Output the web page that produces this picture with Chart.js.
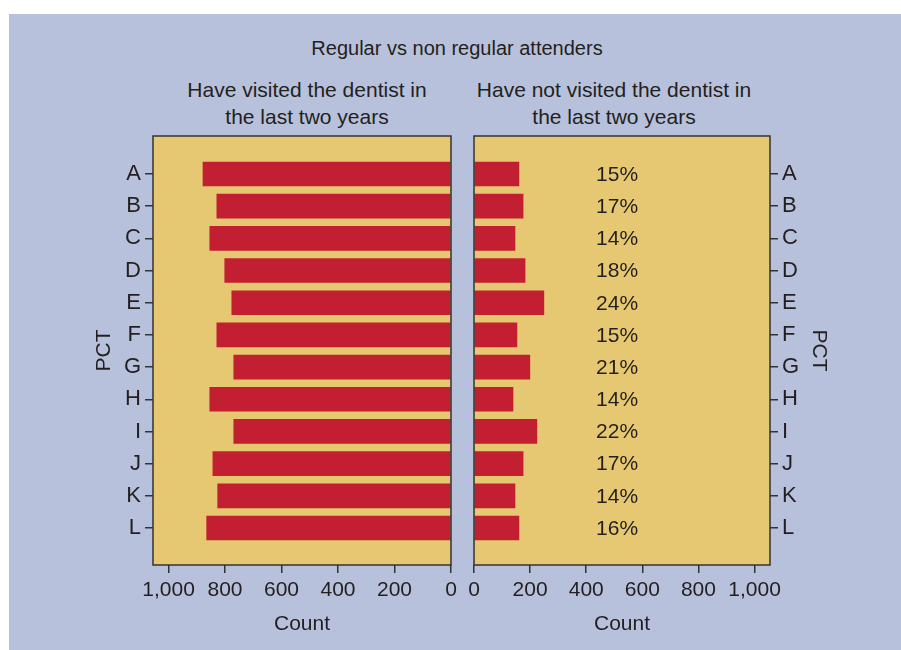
<!DOCTYPE html>
<html>
<head>
<meta charset="utf-8">
<script src="https://cdn.jsdelivr.net/npm/chart.js@4.4.0/dist/chart.umd.min.js"></script>
<style>
  body { margin: 0; background: #ffffff; }
  #wrap { position: relative; width: 901px; height: 650px; overflow: hidden; }
  #panel { position: absolute; left: 9px; top: 14px; width: 892px; height: 636px; background: #b8c1db; }
  canvas { position: absolute; left: 0; top: 0; }
  .txt { position: absolute; font-family: 'Liberation Sans', sans-serif; font-size: 21px; color: #231f20; text-align: center; line-height: 27px; white-space: nowrap; }
</style>
</head>
<body>
<div id="wrap">
  <div id="panel"></div>
  <div class="txt" style="left:257px; top:35px; width:400px; font-size:20px;">Regular vs non regular attenders</div>
  <div class="txt" style="left:157px; top:76px; width:300px;">Have visited the dentist in<br>the last two years</div>
  <div class="txt" style="left:464px; top:76px; width:300px;">Have not visited the dentist in<br>the last two years</div>
  <canvas id="leftChart" width="901" height="650"></canvas>
  <canvas id="rightChart" width="901" height="650"></canvas>
</div>
<script>
const categories = ["A", "B", "C", "D", "E", "F", "G", "H", "I", "J", "K", "L"];
const visited = [878, 829, 854, 801, 776, 829, 769, 854, 769, 843, 826, 865];
const notVisited = [160, 175, 146, 182, 249, 153, 199, 139, 224, 175, 146, 160];
const percentLabels = ["15%", "17%", "14%", "18%", "24%", "15%", "21%", "14%", "22%", "17%", "14%", "16%"];
const countTicks = [0, 200, 400, 600, 800, 1000];

const textColor = "#231f20";
const lineColor = "#333333";
const barColor = "#c21f32";
const plotColor = "#e6c872";

Chart.defaults.font.family = "'Liberation Sans', sans-serif";
Chart.defaults.font.size = 21;
Chart.defaults.color = textColor;

const framePlugin = {
    id: "frame",
    beforeDraw(chart) {
        const a = chart.chartArea;
        const ctx = chart.ctx;
        ctx.save();
        ctx.fillStyle = plotColor;
        ctx.fillRect(a.left, a.top, a.right - a.left, a.bottom - a.top);
        ctx.restore();
    },
    afterDraw(chart) {
        const a = chart.chartArea;
        const ctx = chart.ctx;
        ctx.save();
        ctx.strokeStyle = lineColor;
        ctx.lineWidth = 1.5;
        ctx.strokeRect(a.left, a.top, a.right - a.left, a.bottom - a.top);
        ctx.restore();
    }
};

const percentPlugin = {
    id: "percent",
    afterDatasetsDraw(chart) {
        const ctx = chart.ctx;
        const xs = chart.scales.x;
        const ys = chart.scales.y;
        ctx.save();
        ctx.font = "21px 'Liberation Sans', sans-serif";
        ctx.fillStyle = textColor;
        ctx.textAlign = "center";
        ctx.textBaseline = "middle";
        percentLabels.forEach((p, i) => {
            ctx.fillText(p, xs.getPixelForValue(510), ys.getPixelForValue(i) + 1);
        });
        ctx.restore();
    }
};

function makeChart(id, values, side) {
    const left = side === "left";
    return new Chart(document.getElementById(id), {
        type: "bar",
        data: {
            datasets: [{
                data: values.map((v, i) => ({ x: v, y: i })),
                backgroundColor: barColor,
                barThickness: 24
            }]
        },
        options: {
            indexAxis: "y",
            responsive: false,
            animation: false,
            layout: {
                padding: left
                    ? { left: 92, right: 450, top: 136, bottom: 0 }
                    : { left: 474, right: 70, top: 136, bottom: 0 }
            },
            plugins: {
                legend: { display: false },
                tooltip: { enabled: false }
            },
            scales: {
                x: {
                    type: "linear",
                    reverse: left,
                    min: 0,
                    max: 1055,
                    afterFit: s => { s.height = 85; },
                    afterBuildTicks: s => { s.ticks = countTicks.map(v => ({ value: v })); },
                    ticks: {
                        padding: 5,
                        color: textColor,
                        maxRotation: 0,
                        callback: v => v.toLocaleString("en-US")
                    },
                    grid: { drawOnChartArea: false, tickLength: 8, color: lineColor, lineWidth: 1.5 },
                    border: { display: false },
                    title: { display: true, text: "Count", color: textColor, padding: { top: 0, bottom: 13 } }
                },
                y: {
                    type: "linear",
                    position: side,
                    reverse: true,
                    offset: false,
                    min: -1.18,
                    max: 12.15,
                    afterFit: s => { s.width = 61; },
                    afterBuildTicks: s => { s.ticks = categories.map((c, i) => ({ value: i })); },
                    ticks: {
                        padding: 4,
                        color: textColor,
                        font: { size: 22 },
                        callback: v => categories[v]
                    },
                    grid: { offset: false, drawOnChartArea: false, tickLength: 8, color: lineColor, lineWidth: 1.5 },
                    border: { display: false },
                    title: { display: true, text: "PCT", color: textColor, padding: 0 }
                }
            }
        },
        plugins: left ? [framePlugin] : [framePlugin, percentPlugin]
    });
}

makeChart("leftChart", visited, "left");
makeChart("rightChart", notVisited, "right");
</script>
</body>
</html>
